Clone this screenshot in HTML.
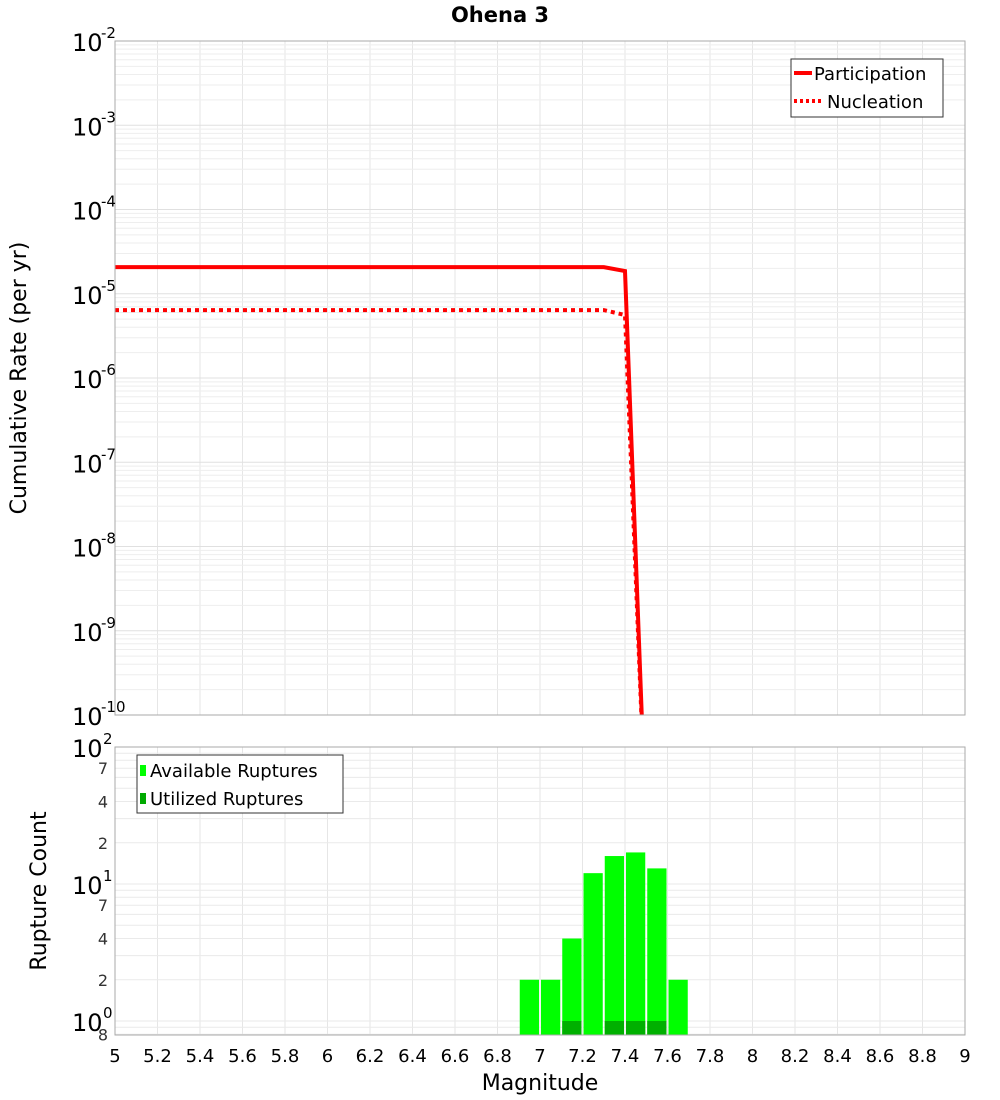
<!DOCTYPE html>
<html><head><meta charset="utf-8"><style>
body{margin:0;background:#fff}
svg{display:block;font-family:"Liberation Sans","DejaVu Sans",sans-serif}
</style></head><body>
<svg id="chart" width="1000" height="1100" viewBox="0 0 1000 1100" xmlns="http://www.w3.org/2000/svg">
<text x="500" y="22" text-anchor="middle" font-size="21" font-weight="bold" font-family="DejaVu Sans, sans-serif">Ohena 3</text>
<g id="top-grid"></g>
<g id="bot-grid"></g>
<g id="bars"></g>
<g id="lines"></g>
<rect x="115" y="41" width="850" height="674" fill="none" stroke="#aaa"/>
<rect x="115" y="747" width="850" height="288" fill="none" stroke="#aaa"/>
<g id="top-yticks" font-family="DejaVu Sans, sans-serif"></g>
<g id="bot-yticks" font-family="DejaVu Sans, sans-serif"></g>
<g id="xticks" font-family="DejaVu Sans, sans-serif" font-size="18"></g>
<text x="540" y="1090" text-anchor="middle" font-size="22" font-family="DejaVu Sans, sans-serif">Magnitude</text>
<text transform="translate(26,378) rotate(-90)" text-anchor="middle" font-size="22" font-family="DejaVu Sans, sans-serif">Cumulative Rate (per yr)</text>
<text transform="translate(46,891) rotate(-90)" text-anchor="middle" font-size="22" font-family="DejaVu Sans, sans-serif">Rupture Count</text>
<g font-family="DejaVu Sans, sans-serif" font-size="18">
<rect x="791" y="59" width="152" height="58" fill="#fff" stroke="#333"/>
<line x1="794" y1="73" x2="812" y2="73" stroke="red" stroke-width="4"/>
<text x="814" y="80">Participation</text>
<line x1="794" y1="101" x2="822" y2="101" stroke="red" stroke-width="4" stroke-dasharray="3,3"/>
<text x="827" y="108">Nucleation</text>
</g>
<g font-family="DejaVu Sans, sans-serif" font-size="18">
<rect x="137" y="755" width="206" height="58" fill="#fff" stroke="#333"/>
<rect x="140" y="765" width="6" height="11" fill="#00ff00"/>
<text x="150" y="777">Available Ruptures</text>
<rect x="140" y="793" width="6" height="11" fill="#00aa00"/>
<text x="150" y="805">Utilized Ruptures</text>
</g>
</svg>
<script>
const xMin = 5, xMax = 9;
const mags = [5.0, 7.3, 7.4, 7.5];
const participation = [2.07e-5, 2.07e-5, 1.86e-5, 3.7e-12];
const nucleation = [6.4e-6, 6.4e-6, 5.6e-6, 3.7e-12];
const binStarts = [6.9, 7.0, 7.1, 7.2, 7.3, 7.4, 7.5, 7.6];
const available = [2, 2, 4, 12, 16, 17, 13, 2];
const utilized = [0, 0, 1, 0, 1, 1, 1, 0];
const xTicks = ["5","5.2","5.4","5.6","5.8","6","6.2","6.4","6.6","6.8","7","7.2","7.4","7.6","7.8","8","8.2","8.4","8.6","8.8","9"];
const topExps = [-2,-3,-4,-5,-6,-7,-8,-9,-10];

const NS = "http://www.w3.org/2000/svg";
function mk(tag, attrs, parent){const e=document.createElementNS(NS,tag);for(const k in attrs)e.setAttribute(k,attrs[k]);parent.appendChild(e);return e;}
const X = m => 115 + (m - xMin) / (xMax - xMin) * 850;
const YT = v => 41 + (-2 - Math.log10(v)) * 84.25;
const YB = v => 747 + (2 - Math.log10(v)) * 137;

// grids
const tg = document.getElementById('top-grid'), bg = document.getElementById('bot-grid');
for (let i = 0; i < xTicks.length; i++) {
  const x = X(parseFloat(xTicks[i]));
  let l = mk('line',{x1:x,x2:x,y1:41,y2:715,stroke:'#e6e6e6'},tg);
  
  
  l = mk('line',{x1:x,x2:x,y1:747,y2:1035,stroke:'#e6e6e6'},bg);
  
  
}
for (let e = -10; e < -2; e++) for (let k = 1; k < 10; k++) {
  const y = YT(k * Math.pow(10, e));
  const l = mk('line',{x1:115,x2:965,y1:y,y2:y,stroke:k===1?'#e0e0e0':'#eeeeee'},tg);
  
  
}
for (let e = -1; e < 2; e++) for (let k = 1; k < 10; k++) {
  const v = k * Math.pow(10, e);
  if (v < 0.8) continue;
  const y = YB(v);
  const l = mk('line',{x1:115,x2:965,y1:y,y2:y,stroke:'#eaeaea'},bg);
  
  
}

// bars
const bars = document.getElementById('bars');
const w = X(0.1 + xMin) - X(xMin);
for (let i = 0; i < binStarts.length; i++) {
  const x0 = X(binStarts[i]);
  let r = mk('rect',{x:x0+1,y:YB(available[i]),width:w-2,height:1035-YB(available[i]),fill:'#00ff00'},bars);
  
  
  if (utilized[i] > 0) {
    r = mk('rect',{x:x0+1,y:YB(utilized[i]),width:w-2,height:1035-YB(utilized[i]),fill:'#00b000'},bars);
    
    
  }
}

// lines
const lines = document.getElementById('lines');
const clip = mk('clipPath',{id:'tc'},lines); mk('rect',{x:115,y:41,width:850,height:674},clip);
function path(vals){return vals.map((v,i)=>(i?'L':'M')+X(mags[i]).toFixed(1)+','+YT(v).toFixed(1)).join(' ');}
let p = mk('path',{d:path(participation),fill:'none',stroke:'red','stroke-width':4,'clip-path':'url(#tc)'},lines);


p = mk('path',{d:path(nucleation),fill:'none',stroke:'red','stroke-width':4,'stroke-dasharray':'4,4','clip-path':'url(#tc)'},lines);



// x ticks
const xt = document.getElementById('xticks');
for (const t of xTicks) {
  const tx = mk('text',{x:X(parseFloat(t)),y:1062,'text-anchor':'middle'},xt);
  tx.textContent = t;
  
  
}
// top y ticks
const ty = document.getElementById('top-yticks');
for (const e of topExps) {
  const y = YT(Math.pow(10, e));
  const t = mk('text',{x:72,y:y+10,'font-size':24},ty);
  t.textContent = '10';
  
  
  const s = mk('text',{x:101,y:y-3,'font-size':15},ty);
  s.textContent = String(e);
  
  
}
// bottom y ticks
const by = document.getElementById('bot-yticks');
const bigExps = [2, 1, 0];
for (const e of bigExps) {
  const y = YB(Math.pow(10, e));
  const t = mk('text',{x:72,y:y+10,'font-size':24},by);
  t.textContent = '10';
  
  
  const s = mk('text',{x:103,y:y-3,'font-size':15},by);
  s.textContent = String(e);
  
  
}
const minorVals = [70, 40, 20, 7, 4, 2, 0.8];
const minorLabels = ["7","4","2","7","4","2","8"];
for (let i = 0; i < minorVals.length; i++) {
  const t = mk('text',{x:108,y:YB(minorVals[i])+6,'font-size':16,'text-anchor':'end',fill:'#333'},by);
  t.textContent = minorLabels[i];
  
  
}
</script>
</body></html>
